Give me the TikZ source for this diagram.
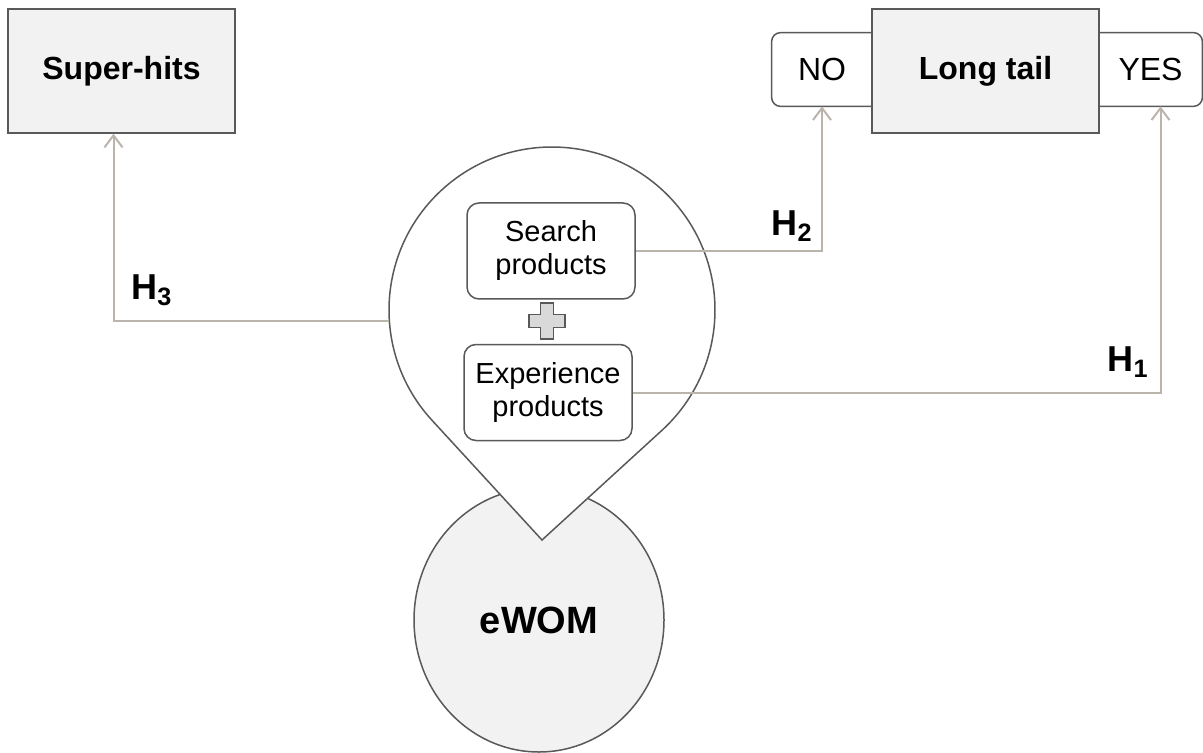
\documentclass[tikz,border=0pt]{standalone}
\usepackage{fontspec}
\setmainfont{Liberation Sans}
\usetikzlibrary{shapes.geometric,arrows.meta}
\definecolor{boxgray}{HTML}{F2F2F2}
\definecolor{edgegray}{HTML}{595959}
\definecolor{linkbeige}{HTML}{BAB4AC}
\definecolor{plusgray}{HTML}{D9D9D9}
\tikzset{
  bigbox/.style={draw=edgegray, line width=0.75pt, fill=boxgray, minimum width=113.5pt, minimum height=62pt, inner sep=0pt, font=\fontsize{16}{19}\selectfont\bfseries},
  optbox/.style={fill=white, minimum height=36.5pt, inner sep=0pt, font=\fontsize{16}{19}\selectfont},
  optline/.style={draw=edgegray, line width=0.75pt, rounded corners=4.5pt},
  kindbox/.style={draw=edgegray, line width=0.75pt, fill=white, rounded corners=6pt, minimum width=84pt, minimum height=48pt, inner sep=0pt, align=center, font=\fontsize{14.5}{16.5}\selectfont},
  pinline/.style={draw=edgegray, line width=0.75pt, fill=white},
  link/.style={draw=linkbeige, line width=1pt, -{Straight Barb[length=6pt,width=9pt]}},
  hyp/.style={inner sep=0pt, font=\fontsize{18}{20}\selectfont\bfseries},
}

\begin{document}
\begin{tikzpicture}[x=0.5pt, y=0.5pt]
        \useasboundingbox (0,0) rectangle (1203,-753);

        \node[draw=edgegray, line width=0.75pt, fill=boxgray, ellipse, minimum width=125pt, minimum height=132pt, inner sep=0pt, font=\fontsize{19}{22}\selectfont\bfseries] (ewom) at (539,-620) {eWOM};

        \node[circle, minimum size=163pt, inner sep=0pt] (pin) at (552,-310) {};
        \coordinate (tip) at (542,-540);
        \draw[pinline] (tip) -- ([shift={(222.6:163)}]pin.center) arc[start angle=222.6, end angle=-47.6, radius=163] -- cycle;

        \node[kindbox] (search) at (551,-251) {Search\\products};
        \node[kindbox] (exp) at (548,-392.5) {Experience\\products};
        \coordinate (plus) at (547,-321);
        \draw[draw=edgegray, line width=0.75pt, fill=plusgray] (plus) ++(-6.5,18) -- ++(13,0) -- ++(0,-11.5) -- ++(11.5,0) -- ++(0,-13) -- ++(-11.5,0) -- ++(0,-11.5) -- ++(-13,0) -- ++(0,11.5) -- ++(-11.5,0) -- ++(0,13) -- ++(11.5,0) -- cycle;

        \node[optbox, minimum width=50pt] (no) at (822,-69.5) {NO};
        \node[optbox, minimum width=51.5pt] (yes) at (1150.5,-69.5) {YES};
        \draw[optline] (no.north east) -| (no.west) |- (no.south east);
        \draw[optline] (yes.north west) -| (yes.east) |- (yes.south west);

        \node[bigbox] (tail) at (985.5,-71) {Long tail};
        \node[bigbox] (hits) at (121.5,-71) {Super-hits};

        \draw[link] (search.east) -| (no.south);
        \draw[link] (exp.east) -| ([xshift=5pt]yes.south);
        \draw[link] (pin.184) -| ([xshift=-4pt]hits.south);

        \node[hyp] (h2) at (792,-226) {H\textsubscript{2}};
        \node[hyp] (h1) at (1128,-362) {H\textsubscript{1}};
        \node[hyp] (h3) at (152,-290) {H\textsubscript{3}};
\end{tikzpicture}
\end{document}
